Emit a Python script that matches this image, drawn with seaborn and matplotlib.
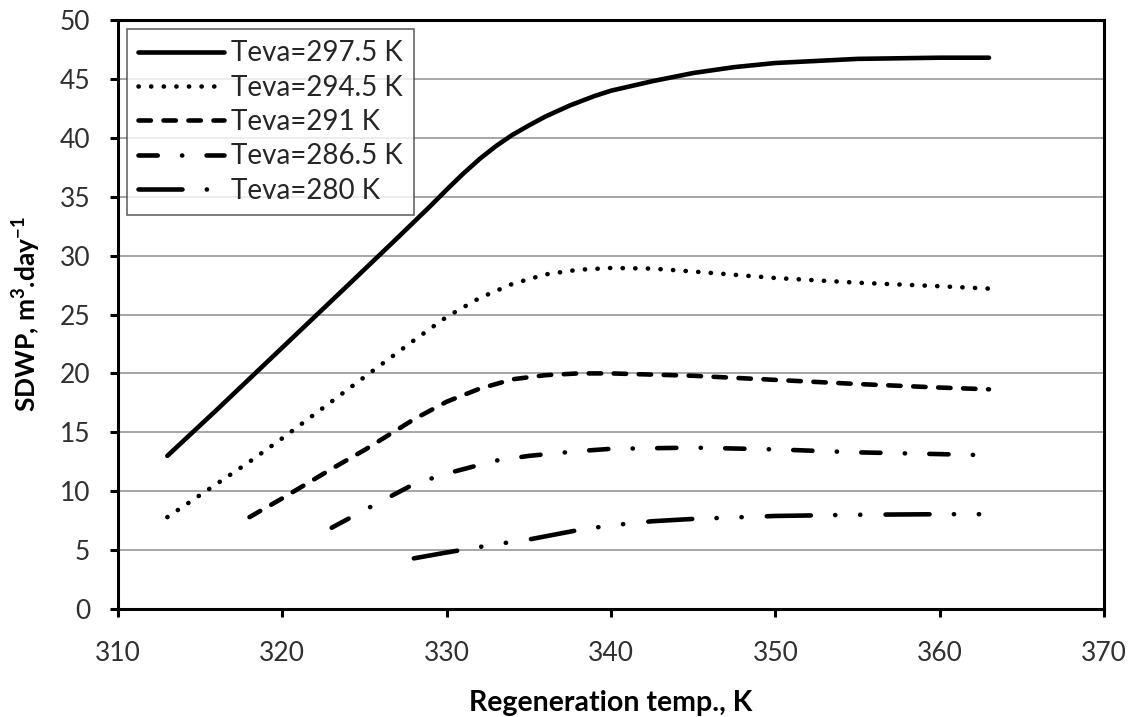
import matplotlib
matplotlib.use("Agg")
import matplotlib.pyplot as plt
import pandas as pd
import seaborn as sns

# Specific daily water production vs. regeneration temperature,
# one curve per evaporator temperature.
series_labels = ["Teva=297.5 K", "Teva=294.5 K", "Teva=291 K", "Teva=286.5 K", "Teva=280 K"]

t_reg_2975 = [313, 316, 320, 324, 327, 328, 329, 330, 331, 332, 333, 334, 335, 336,
              337.5, 339, 340, 342.5, 345, 347.5, 350, 355, 360, 363]
sdwp_2975 = [13.0, 16.9, 22.2, 27.5, 31.5, 32.85, 34.2, 35.6, 36.95, 38.2, 39.3, 40.25, 41.05, 41.8,
             42.75, 43.55, 44.0, 44.8, 45.5, 46.0, 46.35, 46.7, 46.8, 46.8]

t_reg_2945 = [313, 318, 320, 325, 328, 330, 332, 334, 336, 338, 340, 342.5, 345, 350, 355, 360, 363]
sdwp_2945 = [7.8, 12.5, 14.5, 19.7, 22.8, 24.8, 26.4, 27.6, 28.4, 28.8, 28.95, 28.9, 28.65, 28.1, 27.7, 27.4, 27.2]

t_reg_291 = [318, 320, 323, 325, 328, 330, 332, 334, 336, 338, 340, 345, 350, 355, 360, 363]
sdwp_291 = [7.8, 9.4, 11.9, 13.5, 16.1, 17.6, 18.7, 19.5, 19.85, 20.0, 20.0, 19.8, 19.45, 19.1, 18.8, 18.65]

t_reg_2865 = [323, 325, 328, 330, 333, 335, 338, 340, 345, 350, 355, 360, 363]
sdwp_2865 = [6.9, 8.4, 10.6, 11.5, 12.6, 13.0, 13.4, 13.6, 13.7, 13.55, 13.3, 13.15, 13.05]

t_reg_280 = [328, 330, 333, 335, 338, 340, 342.5, 345, 350, 355, 360, 363]
sdwp_280 = [4.3, 4.8, 5.5, 5.9, 6.7, 7.1, 7.45, 7.65, 7.9, 8.0, 8.05, 8.05]

x_ticks = [310, 320, 330, 340, 350, 360, 370]
y_ticks = [0, 5, 10, 15, 20, 25, 30, 35, 40, 45, 50]

frames = []
for label, xs, ys in zip(
    series_labels,
    [t_reg_2975, t_reg_2945, t_reg_291, t_reg_2865, t_reg_280],
    [sdwp_2975, sdwp_2945, sdwp_291, sdwp_2865, sdwp_280],
):
    frames.append(pd.DataFrame({"t_reg": xs, "sdwp": ys, "series": label}))
df = pd.concat(frames, ignore_index=True)

sns.set_theme(style="white")
plt.rcParams["font.family"] = ["Lato", "DejaVu Sans"]
plt.rcParams["mathtext.fontset"] = "custom"
plt.rcParams["mathtext.rm"] = "Lato"
plt.rcParams["mathtext.bf"] = "Lato:bold"

fig, ax = plt.subplots(figsize=(11.35, 7.17), dpi=100)
fig.subplots_adjust(left=0.104, right=0.9727, bottom=0.1506, top=0.9721)

# dash patterns in units of line width
dash_map = {
    "Teva=297.5 K": "",
    "Teva=294.5 K": (0.05, 2.7),
    "Teva=291 K": (2.7, 2.75),
    "Teva=286.5 K": (4.2, 5.3, 0.05, 5.3),
    "Teva=280 K": (9.6, 5.3, 0.05, 5.4, 0.05, 5.5),
}
palette = {lab: "black" for lab in series_labels}

sns.lineplot(
    data=df, x="t_reg", y="sdwp", hue="series", style="series",
    hue_order=series_labels, style_order=series_labels,
    palette=palette, dashes=dash_map, estimator=None, errorbar=None,
    linewidth=3.3, legend=False, ax=ax,
    dash_capstyle="round", solid_capstyle="round",
)

ax.set_xlim(310, 370)
ax.set_ylim(0, 50)
ax.set_xticks(x_ticks)
ax.set_yticks(y_ticks)
ax.yaxis.grid(True, color="#a6a6a6", linewidth=1.4)
ax.xaxis.grid(False)
ax.set_axisbelow(True)

for side in ["left", "right", "top", "bottom"]:
    ax.spines[side].set_visible(True)
    ax.spines[side].set_color("black")
    ax.spines[side].set_linewidth(2.2)

ax.tick_params(axis="both", direction="out", length=6, width=2.2, color="black",
               labelsize=19, labelcolor="#303030")
ax.tick_params(axis="y", pad=14, left=True)
ax.tick_params(axis="x", pad=17, bottom=True)

ax.set_xlabel("Regeneration temp., K", fontsize=20.5, fontweight="bold",
              color="black", labelpad=17)
ax.set_ylabel(r"SDWP, m$^\mathbf{3}$.day$^\mathbf{-1}$", fontsize=19,
              fontweight="bold", color="black", labelpad=12)

handles = ax.get_lines()[:len(series_labels)]
leg = ax.legend(handles, series_labels, loc="upper left", fontsize=20,
                frameon=True, fancybox=False, edgecolor="#404040",
                handlelength=3.1, handletextpad=0.25, labelspacing=0.3,
                borderaxespad=0.33, borderpad=0.4)
leg.get_frame().set_linewidth(1.2)
for t in leg.get_texts():
    t.set_color("#262626")

fig.savefig("out.png", dpi=100, facecolor="white")
